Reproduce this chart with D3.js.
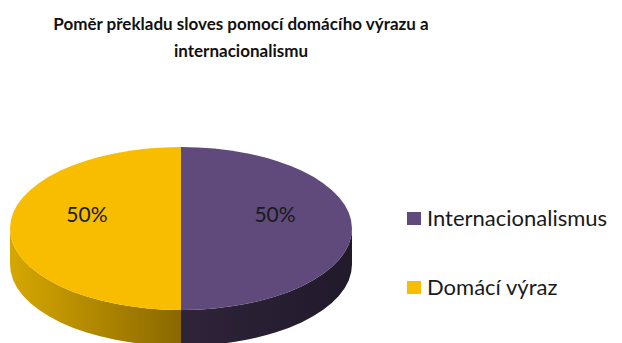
<!DOCTYPE html>
<html>
<head>
<meta charset="utf-8">
<script src="https://cdn.jsdelivr.net/npm/d3@7"></script>
<style>
  html, body { margin: 0; padding: 0; background: #fff; }
  svg { display: block; }
  text { font-family: Lato, "Open Sans", sans-serif; }
</style>
</head>
<body>
<svg id="chart" width="622" height="343"></svg>
<script>
const titleLines = ["Poměr překladu sloves pomocí domácího výrazu a", "internacionalismu"];
const categories = ["Internacionalismus", "Domácí výraz"];
const values = [50, 50];
const topColors = ["#5f4a7b", "#f9bd00"];
const sideColorsLight = ["#2f2339", "#d6a700"];
const sideColorsDark = ["#211a2b", "#8a6800"];

const W = 622, H = 343;
const svg = d3.select("#chart");
const defs = svg.append("defs");

// Ellipse geometry of the tilted pie
const cx = 181, cy = 228.5, rx = 171, ry = 81.5, depth = 36;

const pie = d3.pie().sort(null).startAngle(0).endAngle(2 * Math.PI);
const arcs = pie(values);
const total = d3.sum(values);

const px = a => cx + rx * Math.sin(a);
const py = a => cy - ry * Math.cos(a);

function topPath(a0, a1) {
  const large = (a1 - a0) > Math.PI ? 1 : 0;
  return `M${cx},${cy}L${px(a0)},${py(a0)}A${rx},${ry} 0 ${large} 1 ${px(a1)},${py(a1)}Z`;
}
function sidePath(a0, a1) {
  const large = (a1 - a0) > Math.PI ? 1 : 0;
  return `M${px(a0)},${py(a0)}A${rx},${ry} 0 ${large} 1 ${px(a1)},${py(a1)}` +
         `L${px(a1)},${py(a1) + depth}A${rx},${ry} 0 ${large} 0 ${px(a0)},${py(a0) + depth}Z`;
}

// Visible rim (front half) of each slice, shaded with a horizontal gradient
arcs.forEach((d, i) => {
  const a0 = Math.max(d.startAngle, Math.PI / 2);
  const a1 = Math.min(d.endAngle, 3 * Math.PI / 2);
  if (a1 <= a0) return;
  const x0 = px(a0), x1 = px(a1);
  // purple rim: lighter toward the centre; yellow rim: lighter toward the left edge
  const g = defs.append("linearGradient")
    .attr("id", "side" + i)
    .attr("gradientUnits", "userSpaceOnUse")
    .attr("x1", x1).attr("x2", x0)
    .attr("y1", 0).attr("y2", 0);
  g.append("stop").attr("offset", "0%").attr("stop-color", sideColorsLight[i]);
  g.append("stop").attr("offset", "100%").attr("stop-color", sideColorsDark[i]);
  if (i === 1) {
    g.attr("x1", x1).attr("x2", x0);
  }
  svg.append("path")
    .attr("d", sidePath(a0, a1))
    .attr("fill", `url(#side${i})`);
});

svg.selectAll("path.top")
  .data(arcs)
  .join("path")
  .attr("class", "top")
  .attr("d", d => topPath(d.startAngle, d.endAngle))
  .attr("fill", (d, i) => topColors[i]);

// Percentage labels
const labelR = 0.55;
svg.selectAll("text.pct")
  .data(arcs)
  .join("text")
  .attr("class", "pct")
  .attr("x", d => cx + rx * labelR * Math.sin((d.startAngle + d.endAngle) / 2))
  .attr("y", 222)
  .attr("text-anchor", "middle")
  .attr("font-size", 21)
  .attr("fill", "#1a1a1a")
  .text(d => Math.round(d.value / total * 100) + "%");

// Title
svg.append("text")
  .attr("text-anchor", "middle")
  .attr("font-weight", "bold")
  .attr("font-size", 17)
  .attr("fill", "#111")
  .selectAll("tspan")
  .data(titleLines)
  .join("tspan")
  .attr("x", 241)
  .attr("y", (d, i) => 30 + i * 27)
  .text(d => d);

// Legend
const legend = svg.append("g");
const lg = legend.selectAll("g")
  .data(categories)
  .join("g")
  .attr("transform", (d, i) => `translate(407,${212 + i * 69})`);
lg.append("rect").attr("width", 14).attr("height", 13).attr("fill", (d, i) => topColors[i]);
lg.append("text")
  .attr("x", 20).attr("y", 14)
  .attr("font-size", 22)
  .attr("fill", "#1a1a1a")
  .text(d => d);
</script>
</body>
</html>
